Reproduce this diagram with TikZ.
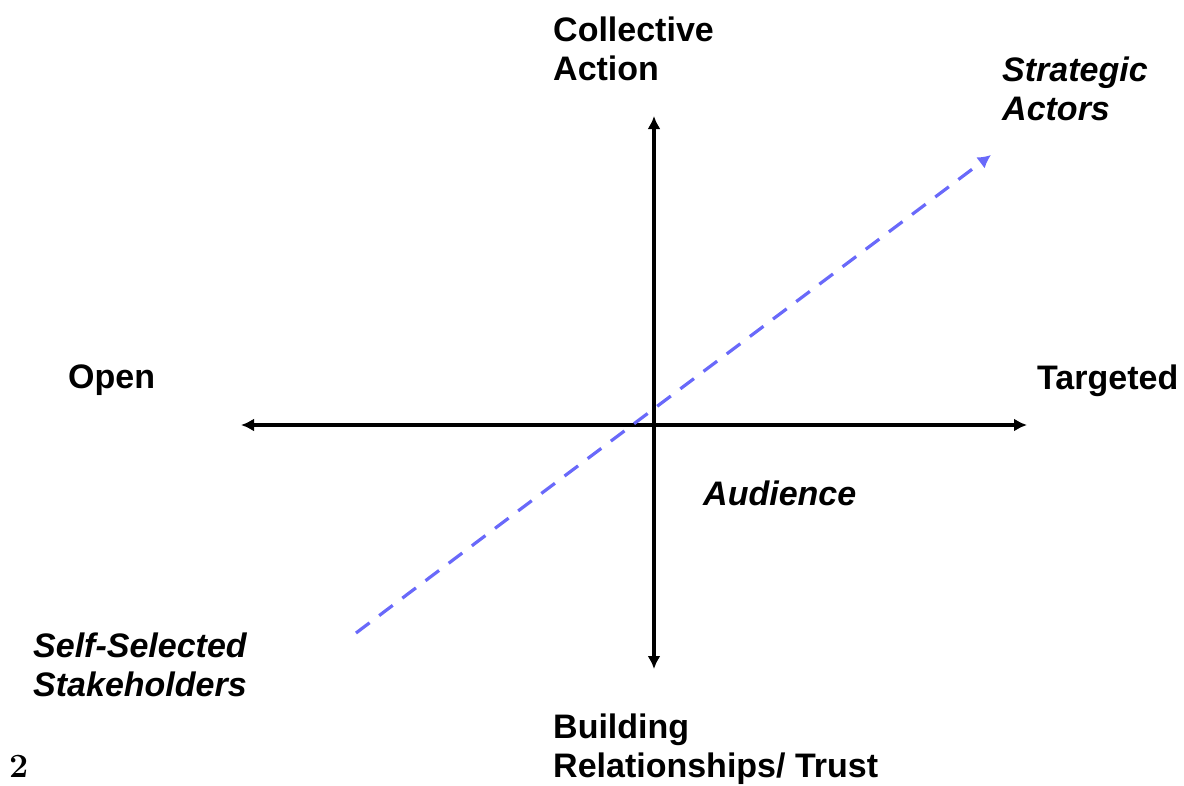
\documentclass[tikz,border=0pt]{standalone}
\usepackage{fontspec}
\setsansfont{Liberation Sans}
\usetikzlibrary{arrows.meta}
\begin{document}
\begin{tikzpicture}[x=1pt,y=-1pt,
  axis/.style={line width=3.2pt,{Latex[length=13pt,width=13pt]}-{Latex[length=13pt,width=13pt]}},
  diag/.style={line width=3.2pt,color={rgb,255:red,105;green,105;blue,250},dash pattern=on 17pt off 12pt,-{Latex[length=13pt,width=14pt]}},
  lbl/.style={font=\sffamily\bfseries\fontsize{34}{39}\selectfont,align=left,anchor=north west,inner sep=0pt},
  ilbl/.style={lbl,font=\sffamily\bfseries\itshape\fontsize{34}{39}\selectfont}]
\useasboundingbox (0,0) rectangle (1184,785);
% axes
\coordinate (top) at (654,116);
\coordinate (bottom) at (654,669);
\coordinate (left) at (241,425);
\coordinate (right) at (1027,425);
\draw[axis] (bottom) -- (top);
\draw[axis] (left) -- (right);
% diagonal audience direction
\coordinate (dstart) at (356,633);
\coordinate (dend) at (991,155);
\draw[diag] (dstart) -- (dend);
% labels
\node[lbl] (collective) at (553,17) {Collective\\Action};
\node[ilbl] (strategic) at (1002,57) {Strategic\\Actors};
\node[lbl] (open) at (68,365) {Open};
\node[lbl] (targeted) at (1037,365) {Targeted};
\node[ilbl] (audience) at (703,481) {Audience};
\node[ilbl] (selfsel) at (33,633) {Self-Selected\\Stakeholders};
\node[lbl] (building) at (553,714) {Building\\Relationships/ Trust};
\node[font=\bfseries\fontsize{34}{40}\selectfont,anchor=base west,inner sep=0pt] (num) at (9,777) {2};
\end{tikzpicture}
\end{document}
